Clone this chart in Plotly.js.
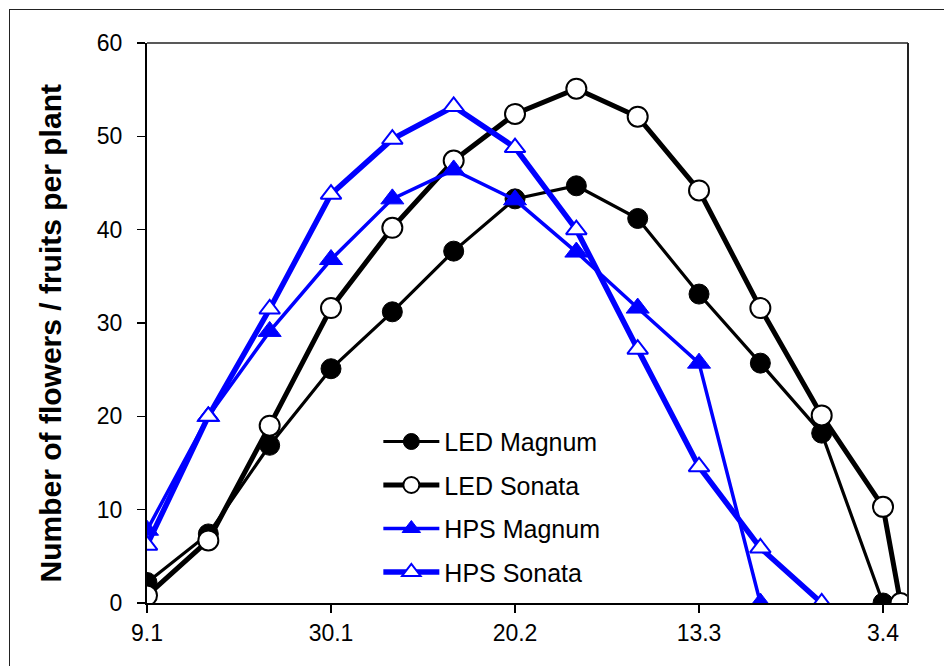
<!DOCTYPE html>
<html>
<head>
<meta charset="utf-8">
<script src="https://cdn.plot.ly/plotly-3.0.1.min.js"></script>
<style>
  html, body { margin: 0; padding: 0; background: #fff; }
  #wrap { position: relative; width: 944px; height: 666px; overflow: hidden; }
  #frame { position: absolute; left: 9px; top: 9px; width: 960px; height: 700px;
           border-left: 1.5px solid #222; border-top: 1.5px solid #222; pointer-events: none; }
  #chart { position: absolute; left: 0; top: 0; width: 944px; height: 666px; }
</style>
</head>
<body>
<div id="wrap">
  <div id="chart"></div>
  <div id="frame"></div>
</div>
<script>
// Days after 9 January (sampling roughly weekly)
const daysA = [0, 7, 14, 21, 28, 35, 42, 49, 56, 63, 70, 77, 84];
const daysLedSonata = [0, 7, 14, 21, 28, 35, 42, 49, 56, 63, 70, 77, 84, 86];
const daysHpsMagnum = [0, 7, 14, 21, 28, 35, 42, 49, 56, 63, 70];
const daysHpsSonata = [0, 7, 14, 21, 28, 35, 42, 49, 56, 63, 70, 77];

const ledMagnum = [2.2, 7.4, 16.9, 25.1, 31.2, 37.7, 43.3, 44.7, 41.2, 33.1, 25.7, 18.2, 0];
const ledSonata = [0.8, 6.7, 19.0, 31.6, 40.2, 47.4, 52.4, 55.1, 52.1, 44.2, 31.6, 20.1, 10.3, 0];
const hpsMagnum = [7.8, 20.0, 29.1, 36.8, 43.3, 46.4, 43.2, 37.6, 31.6, 25.7, 0];
const hpsSonata = [6.2, 20.0, 31.5, 43.8, 49.7, 53.2, 48.8, 40.0, 27.2, 14.6, 5.9, 0];

const tickDays = [0, 21, 42, 63, 84];
const tickLabels = ['9.1', '30.1', '20.2', '13.3', '3.4'];
const yTicks = [0, 10, 20, 30, 40, 50, 60];

const FONT = 'Arial, "Liberation Sans", sans-serif';

const traces = [
  { name: 'LED Magnum', x: daysA, y: ledMagnum, legendgroup: 'a',
    mode: 'lines+markers', line: {color: '#000000', width: 3.2},
    marker: {symbol: 'circle', size: 20, color: '#000000', line: {color: '#000000', width: 1}} },
  { name: 'LED Sonata', x: daysLedSonata, y: ledSonata, legendgroup: 'b',
    mode: 'lines+markers', line: {color: '#000000', width: 5},
    marker: {symbol: 'circle', size: 20, color: '#ffffff', line: {color: '#000000', width: 2}} },
  { name: 'HPS Magnum', x: daysHpsMagnum, y: hpsMagnum, legendgroup: 'c',
    mode: 'lines+markers', line: {color: '#0000ff', width: 3.5},
    marker: {symbol: 'triangle-up', size: 20, color: '#0000ff', line: {color: '#0000ff', width: 1}} },
  { name: 'HPS Sonata', x: daysHpsSonata, y: hpsSonata, legendgroup: 'd',
    mode: 'lines+markers', line: {color: '#0000ff', width: 5.5},
    marker: {symbol: 'triangle-up', size: 18, color: '#ffffff', line: {color: '#0000ff', width: 2}} }
];

const layout = {
  width: 944, height: 666,
  margin: {l: 147, r: 36, t: 43, b: 63},
  paper_bgcolor: '#ffffff', plot_bgcolor: '#ffffff',
  font: {family: FONT, color: '#000000'},
  showlegend: true,
  legend: {
    x: 0.304, xanchor: 'left', y: 0.329, yanchor: 'top',
    bgcolor: 'rgba(0,0,0,0)', font: {family: FONT, size: 25, color: '#000'},
    traceorder: 'grouped', tracegroupgap: 8, itemwidth: 56
  },
  xaxis: {
    range: [0, 86.85], tickmode: 'array', tickvals: tickDays, ticktext: tickLabels,
    showgrid: false, zeroline: false, showline: true, linecolor: '#000', linewidth: 2,
    ticks: 'outside', ticklen: 8, tickwidth: 1.5, tickcolor: '#000',
    tickfont: {family: FONT, size: 23, color: '#000'}
  },
  yaxis: {
    range: [0, 60], tickmode: 'array', tickvals: yTicks,
    showgrid: false, zeroline: false, showline: true, linecolor: '#000', linewidth: 2,
    ticks: 'outside', ticklen: 8, tickwidth: 1.5, tickcolor: '#000',
    tickfont: {family: FONT, size: 23, color: '#000'}, ticklabelstandoff: 10
  },
  shapes: [
    {type: 'line', xref: 'paper', yref: 'paper', x0: 0, x1: 1, y0: 1, y1: 1,
     line: {color: '#222', width: 1.5}},
    {type: 'line', xref: 'paper', yref: 'paper', x0: 1, x1: 1, y0: 0, y1: 1,
     line: {color: '#222', width: 2}}
  ],
  annotations: [
    {text: '<b>Number of flowers / fruits per plant</b>', xref: 'paper', yref: 'paper',
     x: -0.127, y: 0.482, xanchor: 'center', yanchor: 'middle', textangle: -90,
     showarrow: false, font: {family: FONT, size: 30, color: '#000'}}
  ]
};

Plotly.newPlot('chart', traces, layout, {displayModeBar: false, staticPlot: true});
</script>
</body>
</html>
